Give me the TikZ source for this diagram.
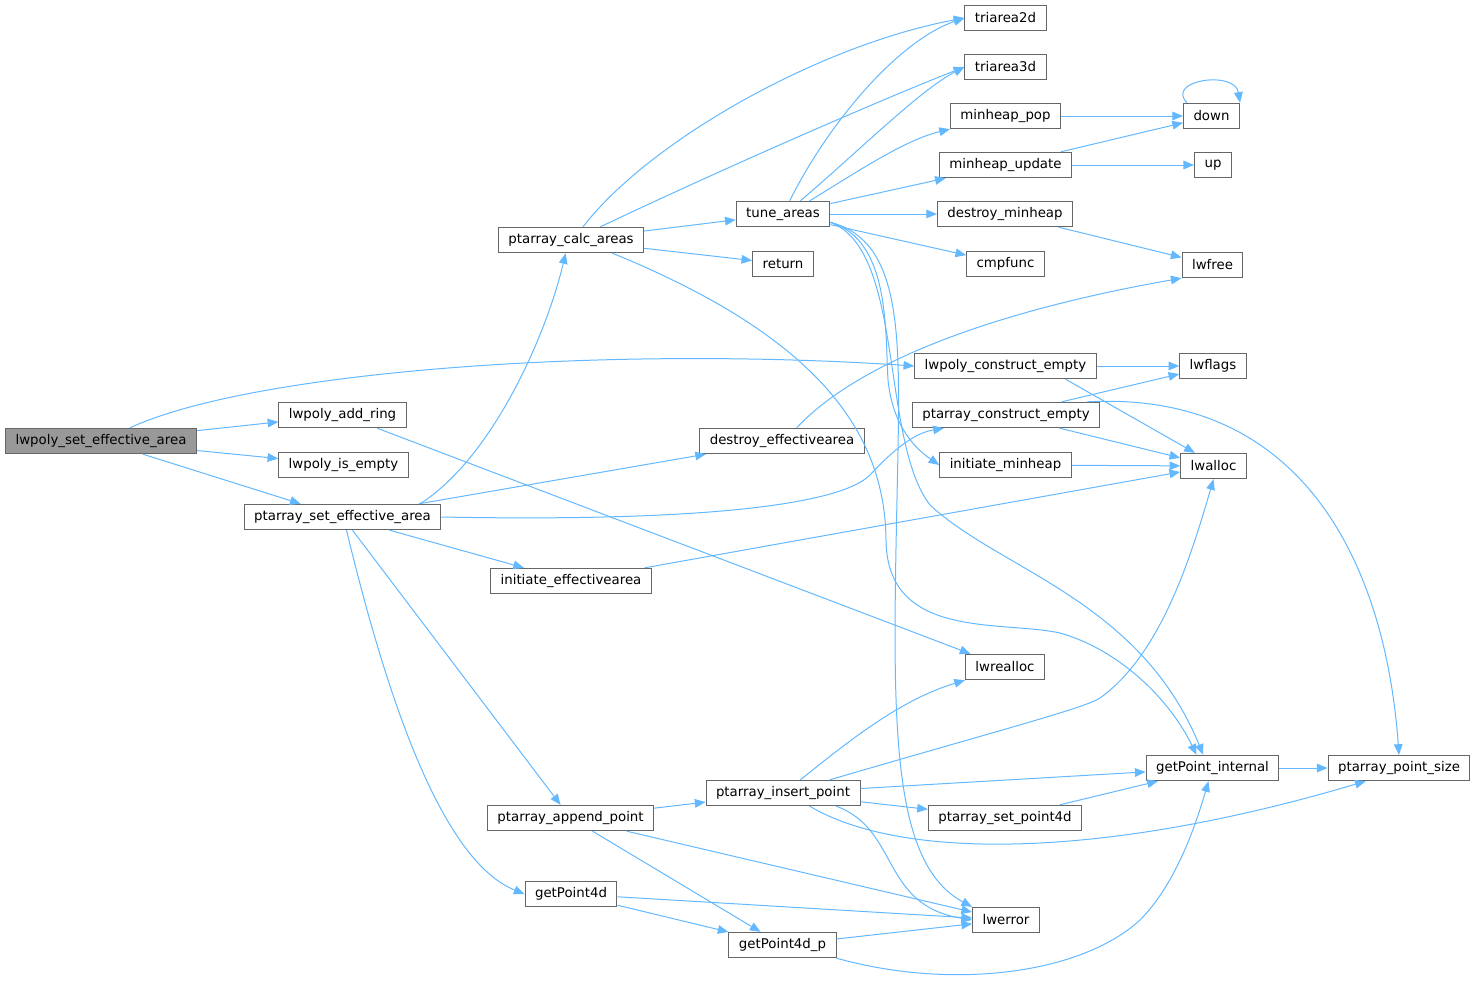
\documentclass[tikz,border=0pt]{standalone}
\usepackage{fontspec}
\setmainfont{DejaVu Sans}
\usepackage{tikz}
\usetikzlibrary{arrows.meta}

\definecolor{edgeblue}{HTML}{63B8FF}
\definecolor{boxgray}{HTML}{666666}
\definecolor{rootgray}{HTML}{999999}

\tikzset{
  fn/.style={draw=boxgray, line width=0.75pt, fill=white, minimum height=19pt,
    inner xsep=7.5pt, inner ysep=0pt, font=\fontsize{10pt}{12pt}\selectfont},
  rootfn/.style={fn, fill=rootgray},
  call/.style={draw=edgeblue, line width=0.75pt, -{Triangle[length=8pt,width=6.5pt]}}
}

\begin{document}
\begin{tikzpicture}[x=0.75pt, y=-0.75pt]

% Рамка
\useasboundingbox (0,0) rectangle (1476,981);

% Узлы
\node[rootfn] (root)   at (101,441)  {lwpoly\_set\_effective\_area};
\node[fn] (addring)    at (342.5,415) {lwpoly\_add\_ring};
\node[fn] (isempty)    at (343.5,465) {lwpoly\_is\_empty};
\node[fn] (psea)       at (342.5,517) {ptarray\_set\_effective\_area};
\node[fn] (pca)        at (571,240)  {ptarray\_calc\_areas};
\node[fn] (tune)       at (783,214)  {tune\_areas};
\node[fn] (ret)        at (783,264)  {return};
\node[fn] (desea)      at (782,441)  {destroy\_effectivearea};
\node[fn] (inea)       at (571,581)  {initiate\_effectivearea};
\node[fn] (pap)        at (570.5,818) {ptarray\_append\_point};
\node[fn] (gp4d)       at (571,894)  {getPoint4d};
\node[fn] (gp4dp)      at (782.5,945) {getPoint4d\_p};
\node[fn] (pip)        at (783,793)  {ptarray\_insert\_point};
\node[fn] (tri2d)      at (1005.5,18) {triarea2d};
\node[fn] (tri3d)      at (1005.5,67) {triarea3d};
\node[fn] (mhpop)      at (1005.5,116) {minheap\_pop};
\node[fn] (mhupd)      at (1005.5,165) {minheap\_update};
\node[fn] (desmh)      at (1005,214) {destroy\_minheap};
\node[fn] (cmpf)       at (1005.5,264) {cmpfunc};
\node[fn] (lcempty)    at (1005.5,366) {lwpoly\_construct\_empty};
\node[fn] (pcempty)    at (1006,415) {ptarray\_construct\_empty};
\node[fn] (inmh)       at (1005.5,465) {initiate\_minheap};
\node[fn] (lwrealloc)  at (1005,667) {lwrealloc};
\node[fn] (psp4d)      at (1005,818) {ptarray\_set\_point4d};
\node[fn] (lwerror)    at (1006,920) {lwerror};
\node[fn] (down)       at (1211.5,116) {down};
\node[fn] (up)         at (1213,165) {up};
\node[fn] (lwfree)     at (1212.5,265) {lwfree};
\node[fn] (lwflags)    at (1213,366) {lwflags};
\node[fn] (lwalloc)    at (1213.5,466) {lwalloc};
\node[fn] (gpi)        at (1212.5,768) {getPoint\_internal};
\node[fn] (psize)      at (1399,768) {ptarray\_point\_size};

% Вызовы из lwpoly_set_effective_area
\draw[call] ([xshift=21.75pt]root.north) .. controls (250,372) and (600,345) .. (lcempty.west);
\draw[call] (root) -- (addring);
\draw[call] (root) -- (isempty);
\draw[call] (root) -- (psea);
\draw[call] (addring) -- (lwrealloc);

% Вызовы из ptarray_set_effective_area
\draw[call] ([xshift=58pt]psea.north) .. controls (490,460) and (545,340) .. ([xshift=-4pt]pca.south);
\draw[call] (psea) -- (desea);
\draw[call] (psea.east) .. controls (700,522) and (840,505) .. (870,475)
  .. controls (895,448) and (915,433) .. ([xshift=24pt]pcempty.south west);
\draw[call] (psea) -- (inea);
\draw[call] (psea) -- (pap);
\draw[call] ([xshift=3pt]psea.south) .. controls (385,690) and (440,860) .. (gp4d.west);

% Вызовы из ptarray_calc_areas
\draw[call] ([xshift=9pt]pca.north) .. controls (650,140) and (820,45) .. (tri2d.west);
\draw[call] ([xshift=22pt]pca.north) .. controls (720,170) and (880,100) .. (tri3d.west);
\draw[call] (pca) -- (tune);
\draw[call] (pca) -- (ret);
\draw[call] ([xshift=31pt]pca.south) .. controls (800,330) and (885,420) .. (886,540)
  .. controls (887,640) and (1000,620) .. (1060,633)
  .. controls (1120,650) and (1170,700) .. ([xshift=-12pt]gpi.north);

% Вызовы из tune_areas
\draw[call] ([xshift=5pt]tune.north) .. controls (830,120) and (900,40) .. (tri2d.west);
\draw[call] ([xshift=13pt]tune.north) .. controls (860,150) and (920,90) .. (tri3d.west);
\draw[call] ([xshift=20pt]tune.north) .. controls (860,170) and (905,140) .. (mhpop.south west);
\draw[call] (tune) -- (mhupd);
\draw[call] (tune) -- (desmh);
\draw[call] (tune) -- (cmpf);
\draw[call] (tune.-10) .. controls (890,240) and (885,330) .. (888,380)
  .. controls (892,420) and (910,445) .. (inmh.west);
\draw[call] (tune.-10) .. controls (900,240) and (900,330) .. (898,450)
  .. controls (893,700) and (885,860) .. (lwerror.north west);
\draw[call] (tune.-10) .. controls (905,250) and (880,440) .. (930,505)
  .. controls (1000,570) and (1140,600) .. ([xshift=-7pt]gpi.north);

% Куча
\draw[call] (mhpop) -- (down);
\draw[call] (mhupd) -- (down);
\draw[call] (mhupd) -- (up);
\draw[call] ([xshift=3pt]down.north west) .. controls (1165,80) and (1235,70) .. (down.north east);
\draw[call] (desmh) -- (lwfree);
\draw[call] ([xshift=11pt]desea.north) .. controls (860,360) and (1000,310) .. (lwfree.south west);

% Память
\draw[call] (lcempty) -- (lwflags);
\draw[call] ([xshift=45pt]lcempty.south) -- ([xshift=11pt]lwalloc.north west);
\draw[call] (pcempty) -- (lwflags);
\draw[call] (pcempty) -- (lwalloc);
\draw[call] ([xshift=-10pt]pcempty.north east) .. controls (1300,390) and (1385,560) .. (psize.north);
\draw[call] (inmh) -- (lwalloc);
\draw[call] (inea) -- (lwalloc);

% Вызовы из ptarray_insert_point
\draw[call] ([xshift=13pt]pip.north) .. controls (850,740) and (900,700) .. (lwrealloc.south west);
\draw[call] ([xshift=35pt]pip.north) .. controls (1000,730) and (1085,708) .. (1100,698)
  .. controls (1160,655) and (1190,560) .. (lwalloc.south);
\draw[call] (pip) -- (gpi);
\draw[call] (pip) -- (psp4d);
\draw[call] ([xshift=40pt]pip.south) .. controls (900,830) and (880,905) .. (lwerror.west);
\draw[call] ([xshift=20pt]pip.south) .. controls (900,860) and (1100,860) .. ([xshift=-25pt]psize.south);
\draw[call] (psp4d) -- (gpi);
\draw[call] (gpi) -- (psize);

% Точки
\draw[call] (pap) -- (pip);
\draw[call] (pap) -- (lwerror);
\draw[call] (pap) -- (gp4dp);
\draw[call] (gp4d) -- (lwerror);
\draw[call] (gp4d) -- (gp4dp);
\draw[call] (gp4dp) -- (lwerror);
\draw[call] (gp4dp.south east) .. controls (950,990) and (1080,975) .. (1140,920)
  .. controls (1180,880) and (1200,810) .. ([xshift=-3pt]gpi.south);

\end{tikzpicture}
\end{document}
